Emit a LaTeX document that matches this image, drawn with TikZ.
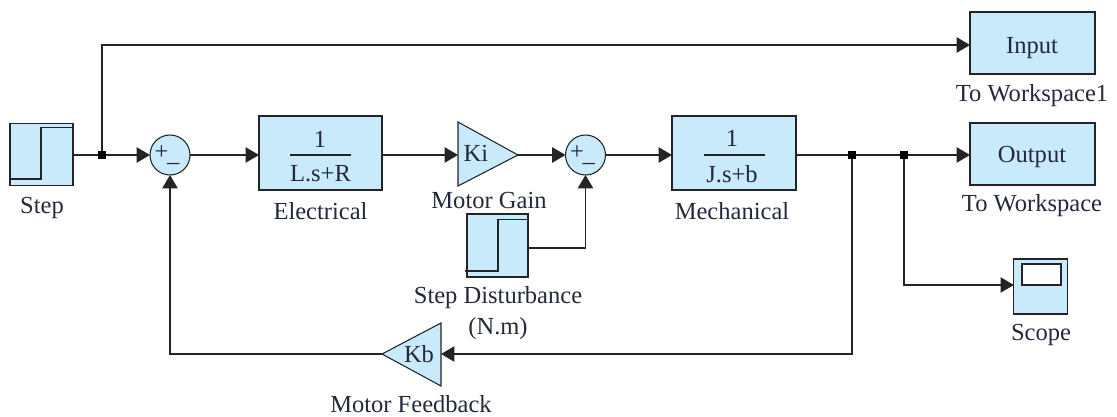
\documentclass[tikz,border=0pt]{standalone}
\usepackage{fontspec}
\setmainfont{Liberation Serif}
\usetikzlibrary{arrows.meta}
\definecolor{blockfill}{RGB}{200,234,250}
\definecolor{linec}{RGB}{35,35,40}
\definecolor{txt}{RGB}{35,40,60}
\tikzset{
  x=0.75pt,y=-0.75pt,
  blockbox/.style={draw=linec,fill=blockfill,line width=0.95pt,inner sep=0pt,outer sep=0pt},
  sumcirc/.style={circle,draw=linec,fill=blockfill,line width=0.8pt,inner sep=0pt,outer sep=0pt,minimum size=30pt},
  gainblk/.style={draw=linec,fill=blockfill,line width=0.8pt,line join=miter},
  lab/.style={text=txt,font=\fontsize{18.4}{20}\selectfont,inner sep=0pt,anchor=center},
  sumlab/.style={text=txt,font=\fontsize{18.4}{20}\selectfont,inner sep=0pt,anchor=center},
  wire/.style={draw=linec,line width=0.9pt},
  arr/.style={wire,-{Triangle[length=10pt,width=11.5pt]}},
  dotj/.style={rectangle,fill=black,inner sep=0pt,outer sep=0pt,minimum size=5.5pt}
}
\begin{document}
\begin{tikzpicture}
\useasboundingbox (0,0) rectangle (1117,417);
% step block
\node[blockbox,minimum width=47.25pt,minimum height=46.5pt] (step) at (41.5,154.5) {};
\draw[wire] (10,179) -- (41,179) -- (41,127.5) -- (73,127.5);
\node[lab] (steplab) at (42,208) {Step};
% sums
\node[sumcirc] (s1) at (170,155) {};
\node[sumlab] (s1t) at (167,155) {+\kern-1pt\raisebox{-2pt}{\_}};
\node[sumcirc] (s2) at (585.5,155) {};
\node[sumlab] (s2t) at (582.5,155) {+\kern-1pt\raisebox{-2pt}{\_}};
% electrical
\node[blockbox,minimum width=92.25pt,minimum height=55.5pt] (el) at (320.5,153) {};
\node[lab] (el1) at (320,139) {1};
\coordinate (elfl) at (290,155); \coordinate (elfr) at (351,155);
\draw[wire] (elfl) -- (elfr);
\node[lab] (el2) at (320.5,174) {L.s+R};
\node[lab] (ellab) at (320.5,211) {Electrical};
% motor gain
\coordinate (kiA) at (458,122); \coordinate (kiB) at (458,186); \coordinate (kiC) at (518,155);
\draw[gainblk] (kiA) -- (kiC) -- (kiB) -- cycle;
\node[lab] (kit) at (476,153) {Ki};
\node[lab] (kilab) at (489,200) {Motor Gain};
\coordinate (kiW) at (458,155);
% mechanical
\node[blockbox,minimum width=93pt,minimum height=55.5pt] (me) at (734,153) {};
\node[lab] (me1) at (732,138) {1};
\coordinate (mefl) at (704,155); \coordinate (mefr) at (765,155);
\draw[wire] (mefl) -- (mefr);
\node[lab] (me2) at (732,174) {J.s+b};
\node[lab] (melab) at (732,211) {Mechanical};
% step disturbance
\node[blockbox,minimum width=45.75pt,minimum height=47.25pt] (sd) at (497.5,245.5) {};
\draw[wire] (465,271) -- (498,271) -- (498,219.5) -- (528,219.5);
\node[lab] (sdlab1) at (498,298) {Step Disturbance};
\node[lab] (sdlab2) at (498,329) {(N.m)};
% Kb
\coordinate (kbA) at (441,323); \coordinate (kbB) at (441,386); \coordinate (kbC) at (382,354);
\draw[gainblk] (kbA) -- (kbC) -- (kbB) -- cycle;
\node[lab] (kbt) at (419,354) {Kb};
\node[lab] (kblab) at (411,404) {Motor Feedback};
% sinks
\node[blockbox,minimum width=93.75pt,minimum height=46.5pt] (inp) at (1032.5,43) {};
\node[lab] (inpt) at (1032,48) {Input};
\node[lab] (inplab) at (1032,96) {To Workspace1};
\node[blockbox,minimum width=93.75pt,minimum height=46.5pt] (out) at (1032.5,154) {};
\node[lab] (outt) at (1032,157) {Output};
\node[lab] (outlab) at (1032,206) {To Workspace};
% scope
\node[blockbox,minimum width=40pt,minimum height=41.25pt] (sc) at (1040.5,286.5) {};
\node[draw=linec,fill=white,line width=0.95pt,inner sep=0pt,minimum width=29.25pt,minimum height=15.75pt] (scr) at (1041.5,274.5) {};
\node[lab] (sclab) at (1041,335) {Scope};
% junctions
\node[dotj] (j1) at (102,155) {};
\node[dotj,minimum size=6pt] (j2) at (852,155) {};
\node[dotj] (j3) at (904,155) {};
% connectors
\draw[wire] (step.east |- j1) -- (j1);
\draw[arr] (j1) -- (s1.west);
\draw[arr] (s1.east) -- (el.west |- s1);
\draw[arr] (el.east |- kiW) -- (kiW);
\draw[arr] (kiC) -- (s2.west);
\draw[arr] (s2.east) -- (me.west |- s2);
\draw[wire] (me.east |- j2) -- (j2);
\draw[wire] (j2) -- (j3);
\draw[arr] (j3) -- (out.west |- j3);
\draw[arr] (j1) |- (inp.west |- 0,45);
\draw[arr] (j3) |- (sc.west |- 0,285);
\draw[arr] (j2) |- (kbA |- 0,354);
\draw[arr] (kbC) -| (s1.south);
\draw[arr] (sd.east |- 0,248) -| (s2.south);
\end{tikzpicture}
\end{document}
